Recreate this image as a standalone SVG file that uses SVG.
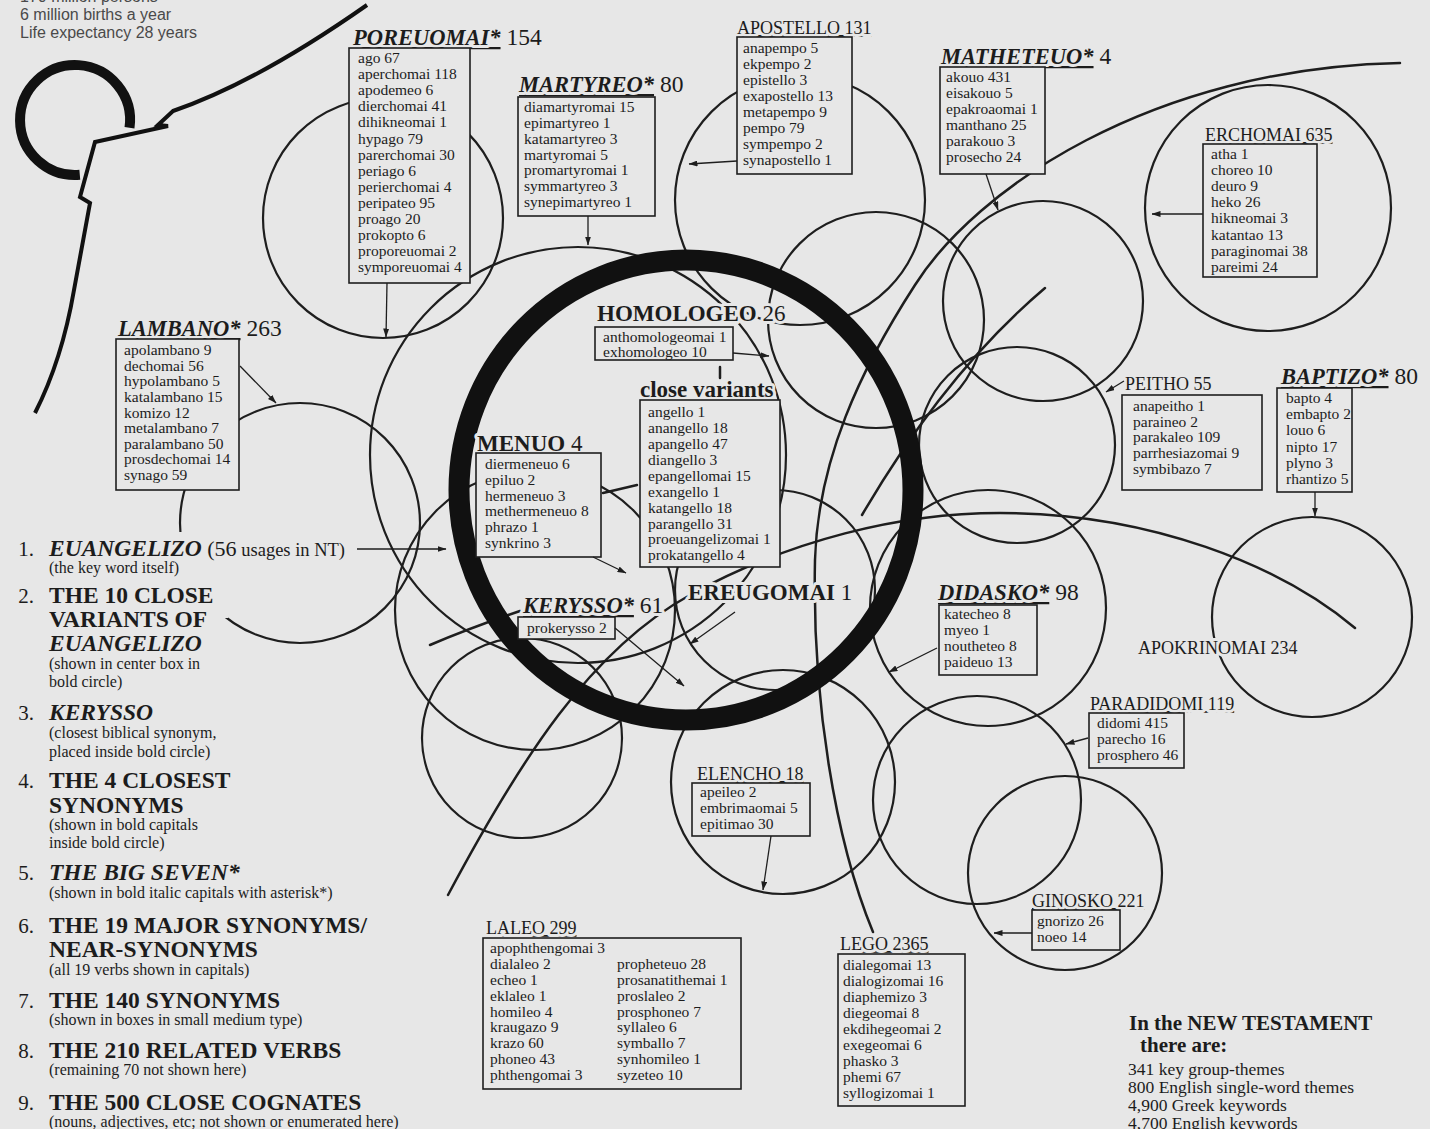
<svg xmlns="http://www.w3.org/2000/svg" width="1430" height="1129" viewBox="0 0 1430 1129">
<defs>
<marker id="ah" markerWidth="9" markerHeight="6" refX="8.5" refY="3" orient="auto" markerUnits="userSpaceOnUse"><path d="M0,0 L9,3 L0,6 z" fill="#1e1e1e"/></marker>
<style>
.c{fill:none;stroke:#1e1e1e;stroke-width:2.2}
.ln{fill:none;stroke:#1e1e1e;stroke-width:2.5;stroke-linecap:round}
.ar{fill:none;stroke:#1e1e1e;stroke-width:1.3;marker-end:url(#ah)}
.box{fill:#e7e7e7;stroke:#1e1e1e;stroke-width:1.6}
text{font-family:"Liberation Serif","Times New Roman",serif;fill:#1c1c1c}
.i{font-size:15.5px}
.h{paint-order:stroke;stroke:#e7e7e7;stroke-width:6px;stroke-linejoin:round}
.hd{font-size:18px}
.b7{font-size:22.5px;font-weight:bold;font-style:italic}
.n7{font-size:23.5px}
.bb{font-size:23px;font-weight:bold}
.nb{font-size:23px}
.u{text-decoration:underline}
.lg{font-size:23.5px;font-weight:bold}
.lgi{font-size:23.5px;font-weight:bold;font-style:italic}
.num{font-size:21px;text-anchor:end}
.sub{font-size:16px}
.sm{font-size:21px;font-weight:bold}
.st{font-size:17.5px}
.sans{font-family:"Liberation Sans",Arial,sans-serif;font-size:16px;fill:#4a4a4a}
</style>
</defs>
<rect width="1430" height="1129" fill="#e7e7e7"/>

<g id="arcs" class="c">
<circle cx="383" cy="218" r="120"/>
<circle cx="300" cy="523" r="120"/>
<circle cx="800" cy="200" r="125"/>
<circle cx="876" cy="320" r="108"/>
<circle cx="1043" cy="301" r="100"/>
<circle cx="1268" cy="208" r="123"/>
<circle cx="1017" cy="445" r="98"/>
<circle cx="988" cy="608" r="118"/>
<circle cx="977" cy="800" r="104"/>
<circle cx="1065" cy="873" r="97"/>
<circle cx="1312" cy="617" r="100"/>
<circle cx="783" cy="782" r="112"/>
<circle cx="522" cy="738" r="100"/>
<circle cx="578" cy="455" r="208"/>
<circle cx="535" cy="610" r="140"/>
<circle cx="775" cy="590" r="100"/>
<path class="ln" d="M1400,63 C1150,68 975,190 915,285 C860,370 818,460 815,560 C812,700 835,840 873,932"/>
<path class="ln" d="M448,895 C520,760 590,650 690,595 C790,540 900,513 1000,513 C1150,513 1280,565 1355,628"/>
<path class="ln" d="M862,515 C900,450 960,360 1045,288"/>
<path class="ln" d="M430,645 Q470,628 520,611"/>
<path class="ln" d="M603,493 L637,485"/>
<path class="ln" d="M720,367 L720,378"/>
</g>

<g id="bold-ring">
<ellipse cx="686" cy="490" rx="227" ry="230" fill="none" stroke="#111" stroke-width="21"/>
</g>

<g id="emblem">
<text class="sans" x="20" y="2">170 million persons</text>
<text class="sans" x="20" y="20">6 million births a year</text>
<text class="sans" x="20" y="38">Life expectancy 28 years</text>
<path d="M129.5,127.7 A55,55 0 1 0 79.8,174.8" fill="none" stroke="#111" stroke-width="10"/>
<path d="M367,5 C310,45 240,88 173,111 L158,125 L168,126 L95,142 L80,197 L90,203 L74,290 Q62,360 35,413" fill="none" stroke="#111" stroke-width="4"/>
</g>

<g id="poreuomai">
<text class="h" x="353" y="45"><tspan class="b7 u">POREUOMAI*</tspan><tspan class="n7"> 154</tspan></text>
<rect class="box" x="349" y="48" width="121" height="235"/>
<text class="i"><tspan x="358" y="63">ago 67</tspan><tspan x="358" y="79">aperchomai 118</tspan><tspan x="358" y="95">apodemeo 6</tspan><tspan x="358" y="111">dierchomai 41</tspan><tspan x="358" y="127">dihikneomai 1</tspan><tspan x="358" y="144">hypago 79</tspan><tspan x="358" y="160">parerchomai 30</tspan><tspan x="358" y="176">periago 6</tspan><tspan x="358" y="192">perierchomai 4</tspan><tspan x="358" y="208">peripateo 95</tspan><tspan x="358" y="224">proago 20</tspan><tspan x="358" y="240">prokopto 6</tspan><tspan x="358" y="256">proporeuomai 2</tspan><tspan x="358" y="272">symporeuomai 4</tspan></text>
</g>

<g id="martyreo">
<text class="h" x="519" y="92"><tspan class="b7 u">MARTYREO*</tspan><tspan class="n7"> 80</tspan></text>
<rect class="box" x="518" y="97" width="137" height="119"/>
<text class="i"><tspan x="524" y="112">diamartyromai 15</tspan><tspan x="524" y="128">epimartyreo 1</tspan><tspan x="524" y="144">katamartyreo 3</tspan><tspan x="524" y="160">martyromai 5</tspan><tspan x="524" y="175">promartyromai 1</tspan><tspan x="524" y="191">symmartyreo 3</tspan><tspan x="524" y="207">synepimartyreo 1</tspan></text>
</g>

<g id="apostello">
<text class="h hd u" x="737" y="34">APOSTELLO 131</text>
<rect class="box" x="737" y="37" width="115" height="137"/>
<text class="i"><tspan x="743" y="53">anapempo 5</tspan><tspan x="743" y="69">ekpempo 2</tspan><tspan x="743" y="85">epistello 3</tspan><tspan x="743" y="101">exapostello 13</tspan><tspan x="743" y="117">metapempo 9</tspan><tspan x="743" y="133">pempo 79</tspan><tspan x="743" y="149">sympempo 2</tspan><tspan x="743" y="165">synapostello 1</tspan></text>
</g>

<g id="matheteuo">
<text class="h" x="941" y="64"><tspan class="b7 u">MATHETEUO*</tspan><tspan class="n7"> 4</tspan></text>
<rect class="box" x="940" y="67" width="105" height="107"/>
<text class="i"><tspan x="946" y="82">akouo 431</tspan><tspan x="946" y="98">eisakouo 5</tspan><tspan x="946" y="114">epakroaomai 1</tspan><tspan x="946" y="130">manthano 25</tspan><tspan x="946" y="146">parakouo 3</tspan><tspan x="946" y="162">prosecho 24</tspan></text>
</g>

<g id="erchomai">
<text class="h hd u" x="1205" y="141">ERCHOMAI 635</text>
<rect class="box" x="1203" y="144" width="114" height="133"/>
<text class="i"><tspan x="1211" y="159">atha 1</tspan><tspan x="1211" y="175">choreo 10</tspan><tspan x="1211" y="191">deuro 9</tspan><tspan x="1211" y="207">heko 26</tspan><tspan x="1211" y="223">hikneomai 3</tspan><tspan x="1211" y="240">katantao 13</tspan><tspan x="1211" y="256">paraginomai 38</tspan><tspan x="1211" y="272">pareimi 24</tspan></text>
</g>

<g id="lambano">
<text class="h" x="118" y="336"><tspan class="b7 u">LAMBANO*</tspan><tspan class="n7"> 263</tspan></text>
<rect class="box" x="116" y="339" width="123" height="151"/>
<text class="i"><tspan x="124" y="355">apolambano 9</tspan><tspan x="124" y="371">dechomai 56</tspan><tspan x="124" y="386">hypolambano 5</tspan><tspan x="124" y="402">katalambano 15</tspan><tspan x="124" y="418">komizo 12</tspan><tspan x="124" y="433">metalambano 7</tspan><tspan x="124" y="449">paralambano 50</tspan><tspan x="124" y="464">prosdechomai 14</tspan><tspan x="124" y="480">synago 59</tspan></text>
</g>

<g id="homologeo">
<text class="h" x="597" y="321"><tspan class="bb">HOMOLOGEO</tspan><tspan class="nb"> 26</tspan></text>
<rect class="box" x="595" y="327" width="138" height="33"/>
<text class="i"><tspan x="603" y="342">anthomologeomai 1</tspan><tspan x="603" y="357">exhomologeo 10</tspan></text>
</g>

<g id="close-variants">
<text class="h bb" x="640" y="397">close variants</text>
<rect class="box" x="640" y="400" width="140" height="167"/>
<text class="i"><tspan x="648" y="417">angello 1</tspan><tspan x="648" y="433">anangello 18</tspan><tspan x="648" y="449">apangello 47</tspan><tspan x="648" y="465">diangello 3</tspan><tspan x="648" y="481">epangellomai 15</tspan><tspan x="648" y="497">exangello 1</tspan><tspan x="648" y="513">katangello 18</tspan><tspan x="648" y="529">parangello 31</tspan><tspan x="648" y="544">proeuangelizomai 1</tspan><tspan x="648" y="560">prokatangello 4</tspan></text>
</g>

<g id="menuo">
<text class="h" x="477" y="451"><tspan class="bb">MENUO</tspan><tspan class="nb"> 4</tspan></text>
<rect class="box" x="476" y="453" width="125" height="104"/>
<text class="i"><tspan x="485" y="469">diermeneuo 6</tspan><tspan x="485" y="485">epiluo 2</tspan><tspan x="485" y="501">hermeneuo 3</tspan><tspan x="485" y="516">methermeneuo 8</tspan><tspan x="485" y="532">phrazo 1</tspan><tspan x="485" y="548">synkrino 3</tspan></text>
</g>

<g id="kerysso">
<text class="h" x="523" y="613"><tspan class="b7 u">KERYSSO*</tspan><tspan class="n7"> 61</tspan></text>
<rect class="box" x="518" y="617" width="97" height="22"/>
<text class="i" x="527" y="633">prokerysso 2</text>
</g>

<g id="ereugomai">
<text class="h" x="688" y="600"><tspan class="bb">EREUGOMAI</tspan><tspan class="nb"> 1</tspan></text>
</g>

<g id="didasko">
<text class="h" x="938" y="600"><tspan class="b7 u">DIDASKO*</tspan><tspan class="n7"> 98</tspan></text>
<rect class="box" x="939" y="605" width="98" height="70"/>
<text class="i"><tspan x="944" y="619">katecheo 8</tspan><tspan x="944" y="635">myeo 1</tspan><tspan x="944" y="651">noutheteo 8</tspan><tspan x="944" y="667">paideuo 13</tspan></text>
</g>

<g id="peitho">
<text class="h hd" x="1125" y="390">PEITHO 55</text>
<rect class="box" x="1122" y="395" width="140" height="95"/>
<text class="i"><tspan x="1133" y="411">anapeitho 1</tspan><tspan x="1133" y="427">paraineo 2</tspan><tspan x="1133" y="442">parakaleo 109</tspan><tspan x="1133" y="458">parrhesiazomai 9</tspan><tspan x="1133" y="474">symbibazo 7</tspan></text>
</g>

<g id="baptizo">
<text class="h" x="1281" y="384"><tspan class="b7 u">BAPTIZO*</tspan><tspan class="n7"> 80</tspan></text>
<rect class="box" x="1277" y="388" width="75" height="104"/>
<text class="i"><tspan x="1286" y="403">bapto 4</tspan><tspan x="1286" y="419">embapto 2</tspan><tspan x="1286" y="435">louo 6</tspan><tspan x="1286" y="452">nipto 17</tspan><tspan x="1286" y="468">plyno 3</tspan><tspan x="1286" y="484">rhantizo 5</tspan></text>
</g>

<g id="apokrinomai">
<text class="h hd" x="1138" y="654">APOKRINOMAI 234</text>
</g>

<g id="paradidomi">
<text class="h hd u" x="1090" y="710">PARADIDOMI 119</text>
<rect class="box" x="1089" y="713" width="95" height="55"/>
<text class="i"><tspan x="1097" y="728">didomi 415</tspan><tspan x="1097" y="744">parecho 16</tspan><tspan x="1097" y="760">prosphero 46</tspan></text>
</g>

<g id="ginosko">
<text class="h hd u" x="1032" y="907">GINOSKO 221</text>
<rect class="box" x="1032" y="910" width="88" height="40"/>
<text class="i"><tspan x="1037" y="926">gnorizo 26</tspan><tspan x="1037" y="942">noeo 14</tspan></text>
</g>

<g id="elencho">
<text class="h hd u" x="697" y="780">ELENCHO 18</text>
<rect class="box" x="692" y="783" width="118" height="53"/>
<text class="i"><tspan x="700" y="797">apeileo 2</tspan><tspan x="700" y="813">embrimaomai 5</tspan><tspan x="700" y="829">epitimao 30</tspan></text>
</g>

<g id="laleo">
<text class="h hd u" x="486" y="934">LALEO 299</text>
<rect class="box" x="483" y="938" width="258" height="151"/>
<text class="i"><tspan x="490" y="953">apophthengomai 3</tspan><tspan x="490" y="969">dialaleo 2</tspan><tspan x="490" y="985">echeo 1</tspan><tspan x="490" y="1001">eklaleo 1</tspan><tspan x="490" y="1017">homileo 4</tspan><tspan x="490" y="1032">kraugazo 9</tspan><tspan x="490" y="1048">krazo 60</tspan><tspan x="490" y="1064">phoneo 43</tspan><tspan x="490" y="1080">phthengomai 3</tspan></text>
<text class="i"><tspan x="617" y="969">propheteuo 28</tspan><tspan x="617" y="985">prosanatithemai 1</tspan><tspan x="617" y="1001">proslaleo 2</tspan><tspan x="617" y="1017">prosphoneo 7</tspan><tspan x="617" y="1032">syllaleo 6</tspan><tspan x="617" y="1048">symballo 7</tspan><tspan x="617" y="1064">synhomileo 1</tspan><tspan x="617" y="1080">syzeteo 10</tspan></text>
</g>

<g id="lego">
<text class="h hd u" x="840" y="950">LEGO 2365</text>
<rect class="box" x="838" y="954" width="127" height="152"/>
<text class="i"><tspan x="843" y="970">dialegomai 13</tspan><tspan x="843" y="986">dialogizomai 16</tspan><tspan x="843" y="1002">diaphemizo 3</tspan><tspan x="843" y="1018">diegeomai 8</tspan><tspan x="843" y="1034">ekdihegeomai 2</tspan><tspan x="843" y="1050">exegeomai 6</tspan><tspan x="843" y="1066">phasko 3</tspan><tspan x="843" y="1082">phemi 67</tspan><tspan x="843" y="1098">syllogizomai 1</tspan></text>
</g>

<g id="legend">
<polygon fill="#e7e7e7" points="0,532 365,532 365,580 228,580 228,618 0,618"/>
<text class="num" x="34" y="556">1.</text>
<text class="h" x="49" y="556"><tspan class="lgi">EUANGELIZO</tspan><tspan font-size="22"> (56</tspan><tspan font-size="18.5"> usages in NT)</tspan></text>
<text class="h sub" x="49" y="573">(the key word itself)</text>
<text class="num" x="34" y="603">2.</text>
<text class="h lg" x="49" y="603">THE 10 CLOSE</text>
<text class="h lg" x="49" y="627">VARIANTS OF</text>
<text class="h lgi" x="49" y="651">EUANGELIZO</text>
<text class="h sub" x="49" y="669">(shown in center box in</text>
<text class="h sub" x="49" y="687">bold circle)</text>
<text class="num" x="34" y="720">3.</text>
<text class="h lgi" x="49" y="720">KERYSSO</text>
<text class="h sub" x="49" y="738">(closest biblical synonym,</text>
<text class="h sub" x="49" y="757">placed inside bold circle)</text>
<text class="num" x="34" y="788">4.</text>
<text class="h lg" x="49" y="788">THE 4 CLOSEST</text>
<text class="h lg" x="49" y="813">SYNONYMS</text>
<text class="h sub" x="49" y="830">(shown in bold capitals</text>
<text class="h sub" x="49" y="848">inside bold circle)</text>
<text class="num" x="34" y="880">5.</text>
<text class="h lgi" x="49" y="880">THE BIG SEVEN*</text>
<text class="h sub" x="49" y="898">(shown in bold italic capitals with asterisk*)</text>
<text class="num" x="34" y="933">6.</text>
<text class="h lg" x="49" y="933">THE 19 MAJOR SYNONYMS/</text>
<text class="h lg" x="49" y="957">NEAR-SYNONYMS</text>
<text class="h sub" x="49" y="975">(all 19 verbs shown in capitals)</text>
<text class="num" x="34" y="1008">7.</text>
<text class="h lg" x="49" y="1008">THE 140 SYNONYMS</text>
<text class="h sub" x="49" y="1025">(shown in boxes in small medium type)</text>
<text class="num" x="34" y="1058">8.</text>
<text class="h lg" x="49" y="1058">THE 210 RELATED VERBS</text>
<text class="h sub" x="49" y="1075">(remaining 70 not shown here)</text>
<text class="num" x="34" y="1110">9.</text>
<text class="h lg" x="49" y="1110">THE 500 CLOSE COGNATES</text>
<text class="h sub" x="49" y="1127">(nouns, adjectives, etc; not shown or enumerated here)</text>
</g>

<g id="nt-summary">
<text class="sm" x="1129" y="1030">In the NEW TESTAMENT</text>
<text class="sm" x="1140" y="1052">there are:</text>
<text class="st" x="1128" y="1075">341 key group-themes</text>
<text class="st" x="1128" y="1093">800 English single-word themes</text>
<text class="st" x="1128" y="1111">4,900 Greek keywords</text>
<text class="st" x="1128" y="1129">4,700 English keywords</text>
</g>

<g id="connectors">
<line class="ar" x1="387" y1="283" x2="386" y2="337"/>
<line class="ar" x1="588" y1="216" x2="588" y2="245"/>
<line class="ar" x1="737" y1="161" x2="689" y2="164"/>
<line class="ar" x1="986" y1="174" x2="998" y2="210"/>
<line class="ar" x1="1203" y1="214" x2="1152" y2="214"/>
<line class="ar" x1="240" y1="366" x2="276" y2="403"/>
<line class="ar" x1="733" y1="353" x2="769" y2="356"/>
<line class="ar" x1="593" y1="557" x2="626" y2="573"/>
<line class="ar" x1="615" y1="628" x2="684" y2="686"/>
<line class="ar" x1="735" y1="612" x2="690" y2="644"/>
<line class="ar" x1="937" y1="648" x2="889" y2="672"/>
<line class="ar" x1="1124" y1="381" x2="1106" y2="392"/>
<line class="ar" x1="1315" y1="492" x2="1315" y2="516"/>
<line class="ar" x1="1088" y1="738" x2="1066" y2="744"/>
<line class="ar" x1="1032" y1="933" x2="994" y2="933"/>
<line class="ar" x1="771" y1="836" x2="763" y2="890"/>
<line class="ar" x1="357" y1="549" x2="446" y2="549"/>
</g>
</svg>
